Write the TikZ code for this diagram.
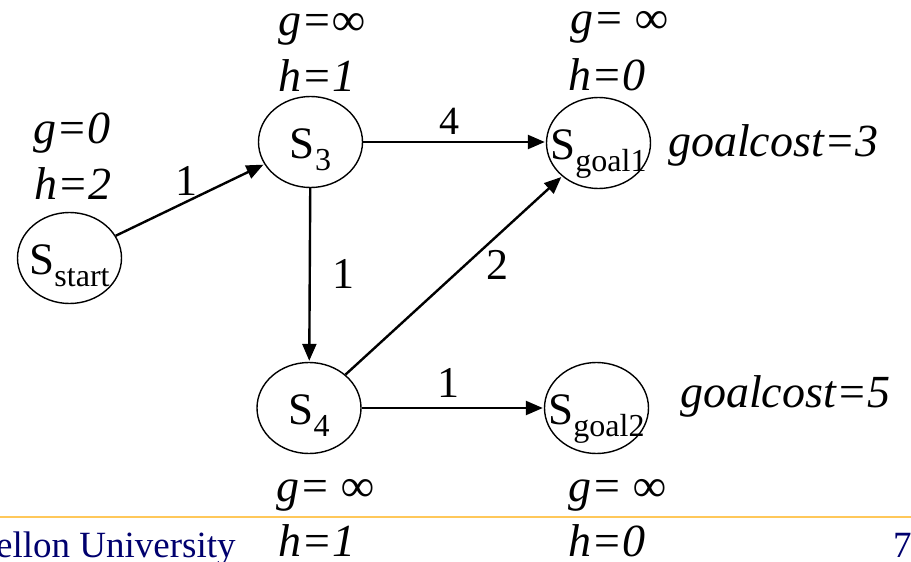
\documentclass[tikz,border=0pt]{standalone}
\usepackage{fontspec}
\setmainfont{Liberation Serif}[ItalicFont={Liberation Serif Italic}]
\usetikzlibrary{arrows.meta,shapes.geometric}
\definecolor{footline}{RGB}{255,200,90}
\definecolor{navyfoot}{RGB}{0,0,110}
\newcommand\mysub[1]{\raisebox{-12.5pt}{\fontsize{32}{32}\selectfont #1}}
\tikzset{
  stnode/.style={draw, ellipse, line width=1.4pt, minimum width=104pt, minimum height=91pt, inner sep=0pt},
  nodetext/.style={anchor=base, inner sep=0pt, font=\fontsize{45}{45}\selectfont},
  info/.style={anchor=base west, inner sep=0pt, font=\fontsize{46}{46}\selectfont\itshape},
  cost/.style={inner sep=0pt, font=\fontsize{44}{44}\selectfont},
  edge/.style={line width=2.4pt, -{Triangle[length=17pt,width=14pt]}, shorten >=1pt},
  foot/.style={anchor=base west, inner sep=0pt, text=navyfoot, font=\fontsize{37}{37}\selectfont}
}
\begin{document}
\begin{tikzpicture}[x=1pt,y=-1pt]
\useasboundingbox (0,0) rectangle (911,562);
% states
\node[stnode] (ss) at (69.5,258) {};
\node[stnode] (s3) at (310.5,142) {};
\node[stnode] (sg1) at (598.5,143) {};
\node[stnode] (s4) at (309,408) {};
\node[stnode] (sg2) at (596.5,408) {};
\node[nodetext] (sst) at ([yshift=-16pt]ss.center) {S\mysub{start}};
\node[nodetext] (s3t) at ([yshift=-16pt]s3.center) {S\mysub{3}};
\node[nodetext] (sg1t) at ([yshift=-16pt]sg1.center) {S\mysub{goal1}};
\node[nodetext] (s4t) at ([yshift=-16pt]s4.center) {S\mysub{4}};
\node[nodetext] (sg2t) at ([yshift=-16pt]sg2.center) {S\mysub{goal2}};
% edges
\draw[edge] (ss) -- (s3);
\draw[edge] (s3.east) -- (s3.east -| sg1.west);
\draw[edge] (s3) -- (s4);
\draw[edge] (s4) -- (sg1);
\draw[edge] (s4.east) -- (s4.east -| sg2.west);
% edge costs
\node[cost] (c1) at (186,181) {1};
\node[cost, font=\fontsize{40}{40}\selectfont] (c2) at (449,121) {4};
\node[cost] (c3) at (343,274) {1};
\node[cost] (c4) at (497,265) {2};
\node[cost] (c5) at (448,383) {1};
% g / h values
\node[info] (gss) at (33,143) {g=0};
\node[info] (hss) at (34,199) {h=2};
\node[info] (gs3) at (278,35) {g=∞};
\node[info] (hs3) at (278,91) {h=1};
\node[info] (gg1) at (570,34) {g= ∞};
\node[info] (hg1) at (568,90) {h=0};
\node[info] (cg1) at (668,156) {goalcost=3};
\node[info] (cg2) at (680,407) {goalcost=5};
\node[info] (gs4) at (276,501) {g= ∞};
\node[info] (hs4) at (278,556) {h=1};
\node[info] (gg2) at (568,501) {g= ∞};
\node[info] (hg2) at (568,556) {h=0};
% footer
\draw[footline, line width=2.5pt] (0,517) coordinate (fl) -- (911,517) coordinate (fr);
\node[foot] (univ) at (-4,557) {ellon University};
\node[foot] (pnum) at (893,557) {7};
\end{tikzpicture}
\end{document}
